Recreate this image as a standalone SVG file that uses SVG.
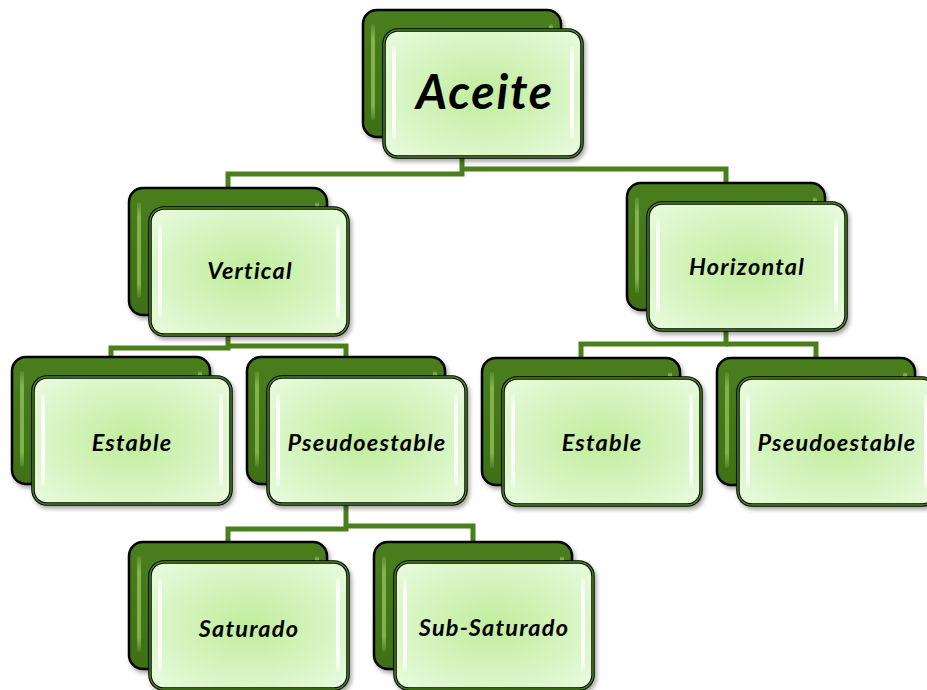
<svg xmlns="http://www.w3.org/2000/svg" width="927" height="690" viewBox="0 0 927 690">
<defs>
<radialGradient id="gFront" cx="0.5" cy="0.5" r="0.7">
<stop offset="0" stop-color="#c0ed9c"/>
<stop offset="0.6" stop-color="#d8f5c4"/>
<stop offset="1" stop-color="#eafbe0"/>
</radialGradient>
<linearGradient id="gBack" x1="0" y1="0" x2="0" y2="1">
<stop offset="0" stop-color="#4a7e1c"/>
<stop offset="1" stop-color="#3f7014"/>
</linearGradient>
<linearGradient id="gHi" x1="0" y1="0" x2="0" y2="1">
<stop offset="0" stop-color="#ffffff" stop-opacity="0.3"/>
<stop offset="0.15" stop-color="#ffffff" stop-opacity="0.95"/>
<stop offset="0.85" stop-color="#ffffff" stop-opacity="0.95"/>
<stop offset="1" stop-color="#ffffff" stop-opacity="0.3"/>
</linearGradient>
<linearGradient id="gHiB" x1="0" y1="0" x2="0" y2="1">
<stop offset="0" stop-color="#8fc05a" stop-opacity="0.2"/>
<stop offset="0.15" stop-color="#8fc05a" stop-opacity="0.8"/>
<stop offset="0.85" stop-color="#8fc05a" stop-opacity="0.8"/>
<stop offset="1" stop-color="#8fc05a" stop-opacity="0.2"/>
</linearGradient>
<filter id="sh" x="-10%" y="-10%" width="125%" height="125%">
<feDropShadow dx="2" dy="3" stdDeviation="2" flood-color="#000" flood-opacity="0.35"/>
</filter>
<g id="node">
<rect x="0" y="0" width="198" height="127" rx="14" fill="url(#gBack)" stroke="#000" stroke-width="2.5" filter="url(#sh)"/>
<rect x="8" y="14" width="4" height="96" rx="2" fill="url(#gHiB)"/>
<rect x="186" y="14" width="4" height="20" rx="2" fill="url(#gHiB)"/>
<rect x="21" y="20" width="198" height="127" rx="14" fill="url(#gFront)" stroke="#000" stroke-width="3.5" filter="url(#sh)"/>
<rect x="21" y="20" width="198" height="127" rx="14" fill="none" stroke="#4b8a1c" stroke-width="1.4"/>
<rect x="29" y="36" width="4" height="94" rx="2" fill="url(#gHi)"/>
<rect x="207" y="36" width="4" height="94" rx="2" fill="url(#gHi)"/>
</g>
</defs>
<style>
.conn{fill:none;stroke:#4b7f1b;stroke-width:5;stroke-linejoin:miter}
.lbl{font-family:"Lato","Open Sans","Liberation Sans",sans-serif;font-weight:bold;font-style:italic;fill:#000;text-anchor:middle}
.s{font-size:23.5px;letter-spacing:1.2px}
.b{font-size:48px;letter-spacing:1.8px}
</style>
<rect width="927" height="690" fill="#fff"/>
<g id="connectors">
<path class="conn" d="M462,150 V174 H228 V190"/>
<path class="conn" d="M462,169 H726 V185"/>
<path class="conn" d="M228,330 V348 H111 V359"/>
<path class="conn" d="M228,346 H346 V359"/>
<path class="conn" d="M726,325 V344 H581 V360"/>
<path class="conn" d="M726,344 H816 V360"/>
<path class="conn" d="M346,500 V529 H228 V545"/>
<path class="conn" d="M346,526 H473 V545"/>
</g>
<g id="n-aceite"><use href="#node" x="363" y="10"/><text class="lbl b" x="485" y="109">Aceite</text></g>
<g id="n-vertical"><use href="#node" x="129" y="188"/><text class="lbl s" x="250" y="279">Vertical</text></g>
<g id="n-horizontal"><use href="#node" x="627" y="183"/><text class="lbl s" x="747" y="275">Horizontal</text></g>
<g id="n-estable1"><use href="#node" x="12" y="357"/><text class="lbl s" x="132" y="451">Estable</text></g>
<g id="n-pseudo1"><use href="#node" x="247" y="357"/><text class="lbl s" x="367" y="451">Pseudoestable</text></g>
<g id="n-estable2"><use href="#node" x="482" y="358"/><text class="lbl s" x="602" y="451">Estable</text></g>
<g id="n-pseudo2"><use href="#node" x="717" y="358"/><text class="lbl s" x="837" y="451">Pseudoestable</text></g>
<g id="n-saturado"><use href="#node" x="129" y="542"/><text class="lbl s" x="249" y="637">Saturado</text></g>
<g id="n-subsat"><use href="#node" x="374" y="542"/><text class="lbl s" x="494" y="636">Sub-Saturado</text></g>
</svg>
